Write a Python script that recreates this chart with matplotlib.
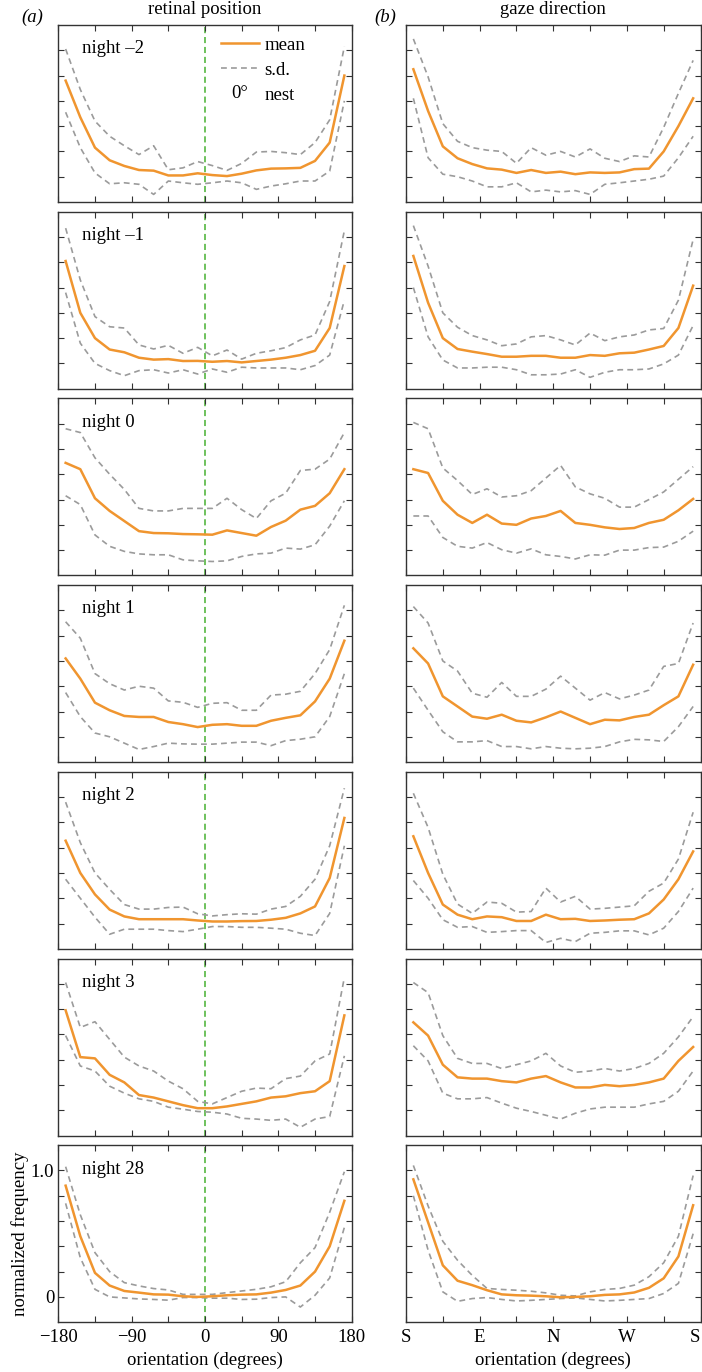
import matplotlib
matplotlib.use("Agg")
import matplotlib.pyplot as plt
import matplotlib.text as mtext
from matplotlib.lines import Line2D
from matplotlib.legend_handler import HandlerBase

plt.rcParams['font.family'] = ['Liberation Serif', 'DejaVu Serif']
FS = 13.5
plt.rcParams['font.size'] = FS

# bin centres (degrees)
angles = [-171, -153, -135, -117, -99, -81, -63, -45, -27, -9,
          9, 27, 45, 63, 81, 99, 117, 135, 153, 171]

nights = ['night \u20132', 'night \u20131', 'night 0', 'night 1',
          'night 2', 'night 3', 'night 28']

# ---- retinal position (a) ----
ret_n2_mean = [0.76, 0.47, 0.23, 0.13, 0.085, 0.053, 0.048, 0.01, 0.01, 0.027,
               0.013, 0.005, 0.024, 0.05, 0.064, 0.066, 0.07, 0.125, 0.27, 0.80]
ret_n2_hi = [1.01, 0.69, 0.44, 0.32, 0.245, 0.175, 0.245, 0.055, 0.07, 0.12,
             0.088, 0.05, 0.105, 0.195, 0.20, 0.19, 0.175, 0.27, 0.45, 1.03]
ret_n2_lo = [0.51, 0.23, 0.03, -0.056, -0.048, -0.06, -0.14, -0.034, -0.048, -0.06,
             -0.048, -0.034, -0.048, -0.10, -0.074, -0.056, -0.034, -0.034, 0.045, 0.60]

ret_n1_mean = [0.81, 0.40, 0.20, 0.11, 0.088, 0.045, 0.03, 0.034, 0.019, 0.02,
               0.013, 0.019, 0.008, 0.019, 0.03, 0.045, 0.066, 0.10, 0.28, 0.77]
ret_n1_hi = [1.07, 0.66, 0.37, 0.29, 0.28, 0.146, 0.114, 0.143, 0.08, 0.127,
             0.06, 0.106, 0.034, 0.08, 0.10, 0.125, 0.186, 0.225, 0.49, 1.05]
ret_n1_lo = [0.56, 0.16, 0.0, -0.057, -0.097, -0.057, -0.05, -0.076, -0.05, -0.084,
             -0.044, -0.07, -0.03, -0.036, -0.036, -0.036, -0.05, -0.017, 0.066, 0.50]

ret_0_mean = [0.69, 0.64, 0.41, 0.31, 0.23, 0.15, 0.135, 0.133, 0.127, 0.125,
              0.122, 0.156, 0.135, 0.114, 0.183, 0.233, 0.32, 0.35, 0.45, 0.64]
ret_0_hi = [0.96, 0.93, 0.73, 0.60, 0.48, 0.33, 0.31, 0.31, 0.33, 0.33,
            0.33, 0.41, 0.32, 0.25, 0.39, 0.45, 0.63, 0.64, 0.72, 0.93]
ret_0_lo = [0.43, 0.36, 0.12, 0.03, -0.01, -0.03, -0.037, -0.037, -0.077, -0.085,
            -0.09, -0.085, -0.05, -0.03, -0.024, 0.016, 0.008, 0.042, 0.19, 0.39]

ret_1_mean = [0.62, 0.46, 0.27, 0.21, 0.165, 0.157, 0.157, 0.117, 0.10, 0.077,
              0.095, 0.10, 0.087, 0.087, 0.127, 0.15, 0.17, 0.28, 0.46, 0.76]
ret_1_hi = [0.91, 0.78, 0.50, 0.42, 0.37, 0.40, 0.385, 0.284, 0.273, 0.233,
            0.265, 0.27, 0.21, 0.21, 0.33, 0.337, 0.36, 0.50, 0.69, 1.04]
ret_1_lo = [0.35, 0.16, 0.03, 0.0, -0.05, -0.10, -0.077, -0.05, -0.056, -0.058,
            -0.058, -0.05, -0.042, -0.042, -0.07, -0.03, -0.019, 0.0, 0.16, 0.50]

ret_2_mean = [0.655, 0.40, 0.23, 0.11, 0.056, 0.034, 0.034, 0.034, 0.034, 0.024,
              0.016, 0.016, 0.019, 0.02, 0.03, 0.045, 0.08, 0.135, 0.36, 0.835]
ret_2_hi = [0.96, 0.64, 0.40, 0.27, 0.15, 0.114, 0.114, 0.127, 0.13, 0.077,
            0.06, 0.07, 0.077, 0.074, 0.114, 0.135, 0.215, 0.35, 0.615, 1.07]
ret_2_lo = [0.35, 0.20, 0.05, -0.085, -0.045, -0.045, -0.045, -0.056, -0.064, -0.045,
            -0.024, -0.024, -0.03, -0.03, -0.037, -0.045, -0.077, -0.095, 0.08, 0.615]

ret_3_mean = [0.79, 0.42, 0.41, 0.28, 0.22, 0.12, 0.10, 0.07, 0.04, 0.016,
              0.016, 0.03, 0.05, 0.07, 0.10, 0.11, 0.135, 0.15, 0.23, 0.75]
ret_3_hi = [1.01, 0.655, 0.70, 0.56, 0.42, 0.35, 0.31, 0.23, 0.17, 0.07,
            0.05, 0.10, 0.15, 0.175, 0.17, 0.25, 0.27, 0.39, 0.445, 1.05]
ret_3_lo = [0.59, 0.35, 0.31, 0.19, 0.135, 0.09, 0.07, 0.024, 0.008, -0.01,
            -0.016, -0.03, -0.064, -0.07, -0.08, -0.07, -0.135, -0.07, -0.05, 0.43]

ret_28_mean = [0.88, 0.48, 0.19, 0.09, 0.047, 0.034, 0.02, 0.018, 0.005, 0.0,
               0.005, 0.013, 0.018, 0.02, 0.034, 0.055, 0.09, 0.20, 0.40, 0.76]
ret_28_hi = [1.03, 0.65, 0.35, 0.20, 0.113, 0.087, 0.066, 0.055, 0.02, 0.02,
             0.02, 0.034, 0.047, 0.06, 0.08, 0.12, 0.27, 0.39, 0.67, 0.99]
ret_28_lo = [0.74, 0.31, 0.06, 0.0, -0.008, -0.016, -0.02, -0.026, -0.005, -0.005,
             -0.01, -0.01, -0.02, -0.018, -0.005, 0.0, -0.08, 0.013, 0.15, 0.55]

# ---- gaze direction (b) ----
gaze_n2_mean = [0.85, 0.52, 0.24, 0.146, 0.10, 0.066, 0.056, 0.03, 0.053, 0.03,
                0.04, 0.02, 0.034, 0.03, 0.034, 0.06, 0.064, 0.20, 0.40, 0.62]
gaze_n2_hi = [1.09, 0.79, 0.42, 0.28, 0.23, 0.21, 0.20, 0.106, 0.23, 0.17,
              0.20, 0.156, 0.22, 0.146, 0.12, 0.165, 0.156, 0.39, 0.66, 0.92]
gaze_n2_lo = [0.62, 0.15, 0.02, 0.0, -0.034, -0.08, -0.08, -0.048, -0.12, -0.106,
              -0.12, -0.11, -0.14, -0.06, -0.048, -0.034, -0.02, 0.005, 0.15, 0.32]

gaze_n1_mean = [0.85, 0.48, 0.20, 0.114, 0.093, 0.074, 0.053, 0.053, 0.06, 0.06,
                0.045, 0.045, 0.066, 0.06, 0.08, 0.085, 0.11, 0.138, 0.28, 0.615]
gaze_n1_hi = [1.09, 0.77, 0.40, 0.286, 0.22, 0.186, 0.14, 0.154, 0.21, 0.22,
              0.186, 0.146, 0.24, 0.18, 0.21, 0.225, 0.265, 0.276, 0.50, 0.98]
gaze_n1_lo = [0.60, 0.21, 0.027, -0.036, -0.036, -0.03, -0.03, -0.05, -0.09, -0.09,
              -0.084, -0.05, -0.11, -0.07, -0.05, -0.05, -0.044, -0.004, 0.066, 0.30]

gaze_0_mean = [0.64, 0.61, 0.39, 0.28, 0.215, 0.28, 0.21, 0.20, 0.25, 0.27,
               0.31, 0.215, 0.20, 0.18, 0.167, 0.175, 0.215, 0.24, 0.315, 0.405]
gaze_0_hi = [1.01, 0.96, 0.65, 0.55, 0.44, 0.485, 0.42, 0.43, 0.47, 0.57,
             0.67, 0.50, 0.445, 0.41, 0.34, 0.34, 0.40, 0.46, 0.56, 0.66]
gaze_0_lo = [0.27, 0.27, 0.10, 0.03, 0.016, 0.06, 0.003, -0.024, 0.01, -0.037,
             -0.05, -0.07, -0.037, -0.04, 0.0, 0.0, 0.02, 0.024, 0.07, 0.15]

gaze_1_mean = [0.70, 0.58, 0.32, 0.24, 0.16, 0.143, 0.175, 0.127, 0.114, 0.154,
               0.20, 0.15, 0.10, 0.135, 0.13, 0.157, 0.175, 0.25, 0.32, 0.57]
gaze_1_hi = [1.03, 0.90, 0.60, 0.52, 0.345, 0.313, 0.43, 0.32, 0.32, 0.377,
             0.48, 0.385, 0.29, 0.35, 0.30, 0.33, 0.37, 0.557, 0.58, 0.90]
gaze_1_lo = [0.385, 0.21, 0.04, -0.04, -0.04, -0.03, -0.077, -0.077, -0.095, -0.077,
             -0.09, -0.095, -0.09, -0.077, -0.04, -0.02, -0.024, -0.037, 0.08, 0.24]

gaze_2_mean = [0.69, 0.40, 0.15, 0.07, 0.034, 0.056, 0.05, 0.02, 0.02, 0.07,
               0.034, 0.037, 0.02, 0.024, 0.03, 0.034, 0.08, 0.19, 0.35, 0.57]
gaze_2_hi = [1.03, 0.76, 0.39, 0.154, 0.08, 0.17, 0.16, 0.09, 0.095, 0.28,
             0.17, 0.215, 0.114, 0.12, 0.13, 0.14, 0.255, 0.32, 0.51, 0.88]
gaze_2_lo = [0.34, 0.20, 0.03, -0.03, -0.024, -0.07, -0.064, -0.056, -0.056, -0.15,
             -0.117, -0.143, -0.077, -0.07, -0.058, -0.058, -0.09, -0.037, 0.095, 0.28]

gaze_3_mean = [0.695, 0.59, 0.36, 0.26, 0.25, 0.25, 0.23, 0.22, 0.25, 0.27,
               0.22, 0.18, 0.18, 0.20, 0.19, 0.20, 0.22, 0.25, 0.39, 0.50]
gaze_3_hi = [1.01, 0.93, 0.59, 0.41, 0.37, 0.37, 0.33, 0.36, 0.39, 0.45,
             0.35, 0.30, 0.31, 0.33, 0.31, 0.33, 0.37, 0.45, 0.58, 0.74]
gaze_3_lo = [0.51, 0.39, 0.135, 0.09, 0.09, 0.10, 0.056, 0.016, -0.01, -0.04,
             -0.07, -0.024, 0.01, 0.024, 0.024, 0.024, 0.05, 0.07, 0.15, 0.31]

gaze_28_mean = [0.93, 0.59, 0.25, 0.128, 0.093, 0.053, 0.02, 0.013, 0.01, 0.005,
                -0.003, 0.0, 0.005, 0.016, 0.02, 0.035, 0.072, 0.147, 0.32, 0.725]
gaze_28_hi = [1.04, 0.72, 0.44, 0.29, 0.17, 0.067, 0.059, 0.053, 0.045, 0.032,
              0.013, 0.008, 0.04, 0.059, 0.067, 0.093, 0.16, 0.27, 0.48, 0.96]
gaze_28_lo = [0.80, 0.37, 0.04, -0.035, -0.013, -0.005, -0.02, -0.032, -0.027, -0.02,
              -0.013, -0.008, -0.02, -0.032, -0.027, -0.02, -0.013, 0.027, 0.107, 0.50]

ret_panels = [(ret_n2_mean, ret_n2_hi, ret_n2_lo), (ret_n1_mean, ret_n1_hi, ret_n1_lo),
              (ret_0_mean, ret_0_hi, ret_0_lo), (ret_1_mean, ret_1_hi, ret_1_lo),
              (ret_2_mean, ret_2_hi, ret_2_lo), (ret_3_mean, ret_3_hi, ret_3_lo),
              (ret_28_mean, ret_28_hi, ret_28_lo)]
gaze_panels = [(gaze_n2_mean, gaze_n2_hi, gaze_n2_lo), (gaze_n1_mean, gaze_n1_hi, gaze_n1_lo),
               (gaze_0_mean, gaze_0_hi, gaze_0_lo), (gaze_1_mean, gaze_1_hi, gaze_1_lo),
               (gaze_2_mean, gaze_2_hi, gaze_2_lo), (gaze_3_mean, gaze_3_hi, gaze_3_lo),
               (gaze_28_mean, gaze_28_hi, gaze_28_lo)]

xticks = [-180, -135, -90, -45, 0, 45, 90, 135, 180]
ret_ticklabels = ['\u2212180', '', '\u221290', '', '0', '', '90', '', '180']
gaze_ticklabels = ['S', '', 'E', '', 'N', '', 'W', '', 'S']

ORANGE = '#f0952f'
GREY = '#9b9b9b'
GREEN = '#46b030'
DARK = '#333333'

W, H = 702, 1372
fig = plt.figure(figsize=(W / 100, H / 100), dpi=100)


class DegHandler(HandlerBase):
    def create_artists(self, legend, orig_handle, xdescent, ydescent,
                       width, height, fontsize, trans):
        t = mtext.Text(-xdescent + width / 2, -ydescent + height / 2, '0\u00b0',
                       ha='center', va='center', fontsize=fontsize,
                       transform=trans)
        return [t]


def style(ax):
    ax.set_xlim(-180, 180)
    ax.set_ylim(-0.2, 1.2)
    ax.set_xticks(xticks)
    ax.set_yticks([0, 0.2, 0.4, 0.6, 0.8, 1.0])
    ax.tick_params(direction='in', top=True, right=True, length=4, width=0.8,
                   color=DARK, labelbottom=False, labelleft=False,
                   labelsize=FS, pad=3)
    ax.tick_params(axis='x', pad=5)
    for s in ax.spines.values():
        s.set_color(DARK)
        s.set_linewidth(1.0)


def draw(ax, mean, hi, lo):
    ax.plot(angles, hi, color=GREY, lw=1.2, ls=(0, (3.5, 2.5)))
    ax.plot(angles, lo, color=GREY, lw=1.2, ls=(0, (3.5, 2.5)))
    ax.plot(angles, mean, color=ORANGE, lw=1.8)


ph = 177
for k in range(7):
    top = 25 + k * 186.7
    bottom = 1 - (top + ph) / H
    axL = fig.add_axes([58.3 / W, bottom, 293.4 / W, ph / H])
    axR = fig.add_axes([406 / W, bottom, 294.5 / W, ph / H])
    style(axL)
    style(axR)
    axL.axvline(0, color=GREEN, lw=1.1, ls=(0, (4, 2.5)), zorder=1)
    draw(axL, *ret_panels[k])
    draw(axR, *gaze_panels[k])
    axL.text(0.08, 0.865, nights[k], transform=axL.transAxes,
             ha='left', va='center', fontsize=FS)

    if k == 0:
        h_mean = Line2D([], [], color=ORANGE, lw=1.8)
        h_sd = Line2D([], [], color=GREY, lw=1.2, ls=(0, (3.5, 2.5)))
        h_deg = Line2D([], [], ls='none')
        axL.legend([h_mean, h_sd, h_deg], ['mean', 's.d.', 'nest'],
                   handler_map={h_deg: DegHandler()},
                   loc='upper left', bbox_to_anchor=(0.555, 0.935),
                   frameon=False, fontsize=FS, borderpad=0, borderaxespad=0,
                   handlelength=2.0, handletextpad=0.3, labelspacing=0.42)

    if k == 6:
        axL.tick_params(labelbottom=True, labelleft=True)
        axL.set_xticklabels(ret_ticklabels)
        axL.set_yticklabels(['0', '', '', '', '', '1.0'])
        axL.set_xlabel('orientation (degrees)', labelpad=4)
        axL.set_ylabel('normalized frequency', labelpad=1)
        axR.tick_params(labelbottom=True)
        axR.set_xticklabels(gaze_ticklabels)
        axR.get_xticklabels()[-1].set_horizontalalignment('right')
        axR.set_xlabel('orientation (degrees)', labelpad=4)

fig.text(205 / W, 1 - 10 / H, 'retinal position', ha='center', va='center', fontsize=FS)
fig.text(553 / W, 1 - 10 / H, 'gaze direction', ha='center', va='center', fontsize=FS)
fig.text(32 / W, 1 - 17 / H, '(a)', ha='center', va='center', fontsize=FS, style='italic')
fig.text(385 / W, 1 - 17 / H, '(b)', ha='center', va='center', fontsize=FS, style='italic')

fig.savefig('out.png', dpi=100)
